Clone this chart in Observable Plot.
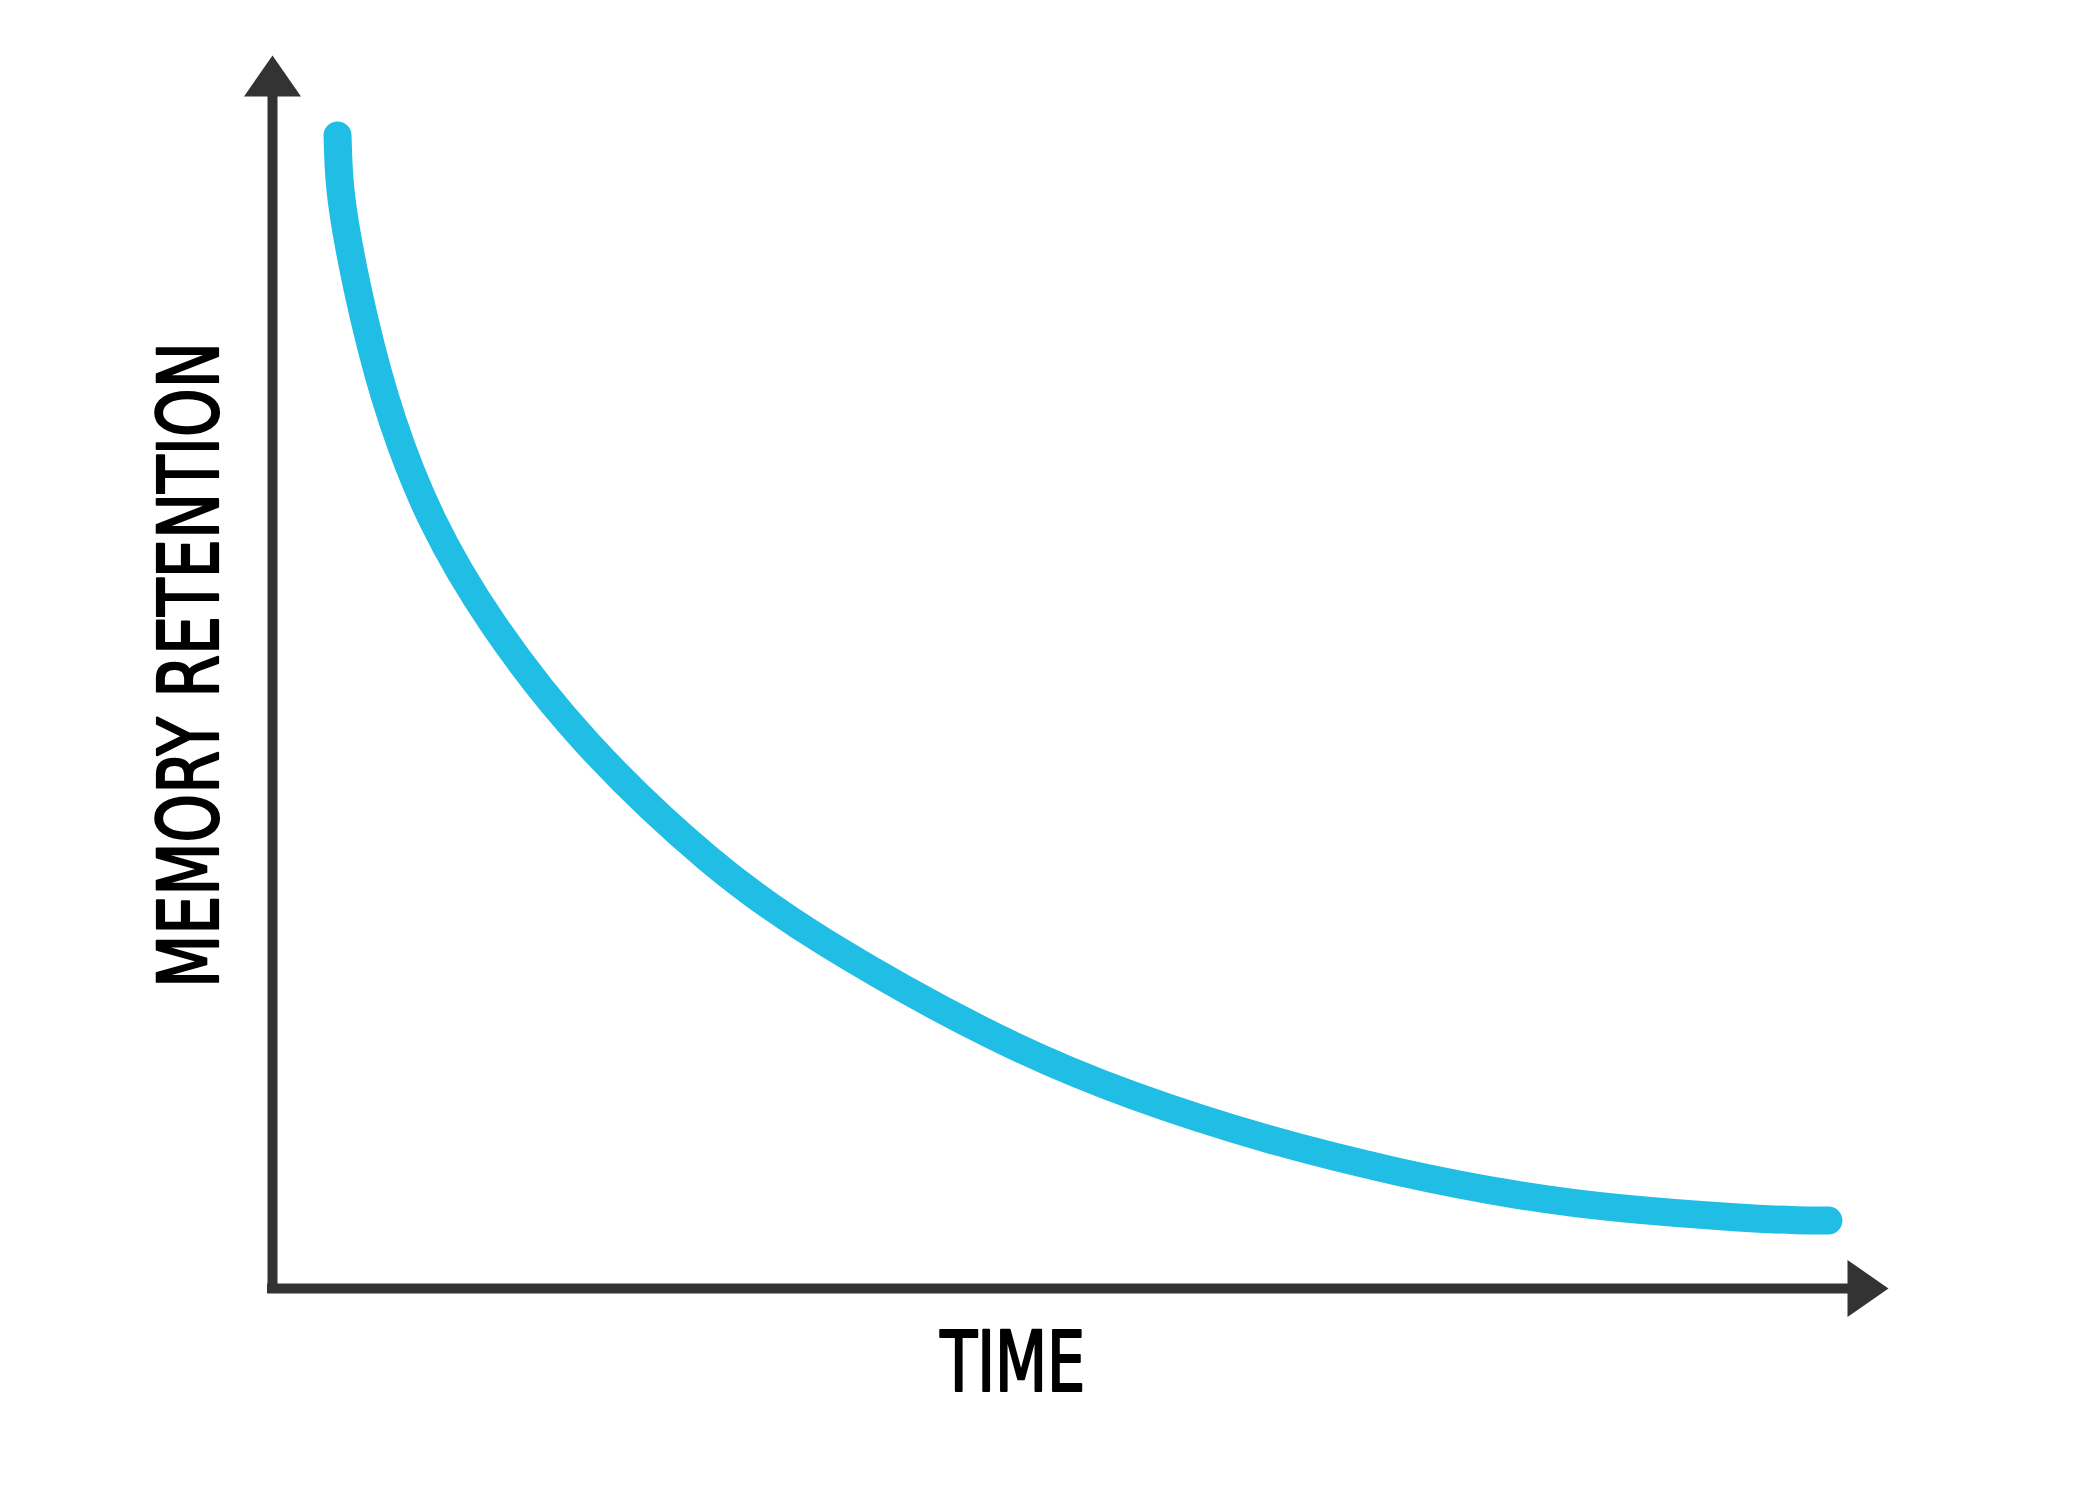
<!DOCTYPE html>
<html><head><meta charset="utf-8">
<script src="https://cdn.jsdelivr.net/npm/d3@7"></script>
<script src="https://cdn.jsdelivr.net/npm/@observablehq/plot@0.6"></script>
<style>html,body{margin:0;padding:0;background:#fff} svg{display:block}</style>
</head><body><div id="chart"></div>
<script>
// Forgetting curve values (time 0..100, retention 0..100)
const time = [4.13, 4.2, 4.51, 5.78, 7.49, 9.97, 13.65, 19.56, 28.0, 34.35, 46.22, 54.67, 63.17, 71.62, 79.24, 85.14, 93.65, 97.0, 98.79];
const retention = [96.73, 93.37, 89.6, 81.21, 72.82, 64.43, 56.04, 45.81, 35.32, 29.36, 20.55, 16.02, 12.42, 9.65, 7.72, 6.71, 5.87, 5.7, 5.7];
const timeDomain = [0, 100];
const retentionDomain = [0, 100];
const xLabel = "TIME";
const yLabel = "MEMORY RETENTION";

const curveData = time.map((t, i) => ({time: t, retention: retention[i]}));
const arrowTips = [
  {time: timeDomain[0], retention: retentionDomain[1], angle: 0},
  {time: timeDomain[1], retention: retentionDomain[0], angle: 90}
];
const arrowHead = {
  draw(ctx) {
    ctx.moveTo(0, -41);
    ctx.lineTo(28.5, 0);
    ctx.lineTo(-28.5, 0);
    ctx.closePath();
  }
};
const font = "'Liberation Sans Narrow', 'DejaVu Sans Condensed', 'Liberation Sans', sans-serif";

const chart = Plot.plot({
  width: 2090,
  height: 1504,
  marginLeft: 272,
  marginRight: 243,
  marginTop: 96,
  marginBottom: 216,
  x: {domain: timeDomain, axis: null},
  y: {domain: retentionDomain, axis: null},
  style: {background: "#fff"},
  marks: [
    Plot.ruleX([timeDomain[0]], {y1: retentionDomain[0], y2: retentionDomain[1], stroke: "#333333", strokeWidth: 10, strokeLinecap: "square"}),
    Plot.ruleY([retentionDomain[0]], {x1: timeDomain[0], x2: timeDomain[1], stroke: "#333333", strokeWidth: 10, strokeLinecap: "square"}),
    Plot.dot(arrowTips, {x: "time", y: "retention", rotate: "angle", symbol: arrowHead, fill: "#333333", stroke: "none", r: 20}),
    Plot.line(curveData, {x: "time", y: "retention", stroke: "#20bde5", strokeWidth: 28, strokeLinecap: "round", strokeLinejoin: "round", curve: "basis"}),
    Plot.text([xLabel], {x: 47, frameAnchor: "bottom", dy: 76, textAnchor: "middle", lineAnchor: "middle", fontFamily: font, fontSize: 83, fontWeight: "normal", fill: "#000", stroke: "#000", strokeWidth: 2.2}),
    Plot.text([yLabel], {y: 52.3, frameAnchor: "left", dx: -81, rotate: -90, textAnchor: "middle", lineAnchor: "middle", fontFamily: font, fontSize: 83, fontWeight: "normal", fill: "#000", stroke: "#000", strokeWidth: 2.2})
  ]
});

chart.querySelectorAll("text").forEach(t => {
  const s = t.textContent;
  if (s === xLabel) { t.setAttribute("textLength", 145); t.setAttribute("lengthAdjust", "spacingAndGlyphs"); }
  if (s === yLabel) { t.setAttribute("textLength", 646); t.setAttribute("lengthAdjust", "spacingAndGlyphs"); }
});
document.getElementById("chart").appendChild(chart);
</script>
</body></html>
